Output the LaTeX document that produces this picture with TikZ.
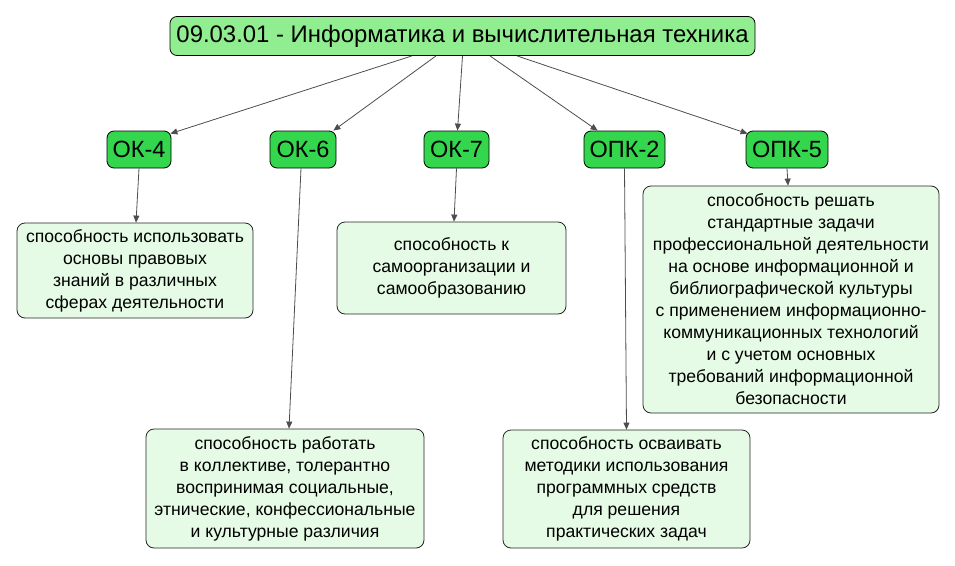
\documentclass[tikz,border=0pt]{standalone}
\usepackage{fontspec}
\setmainfont{Liberation Sans}
\usetikzlibrary{arrows.meta}
\definecolor{topfill}{HTML}{90EE90}
\definecolor{compfill}{HTML}{33D64C}
\definecolor{boxfill}{HTML}{E5FBE5}
\definecolor{edgecol}{HTML}{4D4D4D}
\begin{document}
\begin{tikzpicture}[x=1pt,y=-1pt,
  topnode/.style={draw=black, fill=topfill, rounded corners=7pt, line width=0.8pt,
    minimum width=585pt, minimum height=39pt, inner sep=0pt,
    font=\fontsize{23.9}{27}\selectfont},
  comp/.style={draw=black, fill=compfill, rounded corners=7pt, line width=0.8pt,
    minimum height=37pt, inner sep=0pt, font=\fontsize{23.5}{26}\selectfont},
  desc/.style={draw=black!85, fill=boxfill, rounded corners=8pt, line width=0.8pt,
    inner sep=0pt, align=center, font=\fontsize{17.6}{22}\selectfont},
  arr/.style={draw=edgecol, line width=0.8pt, -{Triangle[length=7pt,width=6pt]}}]
\useasboundingbox (0,0) rectangle (955,565);

\node[topnode] (top) at (462.5,36) {09.03.01 - Информатика и вычислительная техника};

\node[comp, minimum width=64pt] (ok4) at (139,149.5) {ОК-4};
\node[comp, minimum width=66pt] (ok6) at (303,149.5) {ОК-6};
\node[comp, minimum width=65pt] (ok7) at (456.5,149.5) {ОК-7};
\node[comp, minimum width=81pt] (opk2) at (624.5,149.5) {ОПК-2};
\node[comp, minimum width=82pt] (opk5) at (787,149.5) {ОПК-5};

\node[desc, minimum width=236pt, minimum height=95pt] (ok4box) at (135,270.5)
  {способность использовать\\основы правовых\\знаний в различных\\сферах деятельности};
\node[desc, minimum width=229pt, minimum height=92pt] (ok7box) at (451.5,268)
  {способность к\\самоорганизации и\\самообразованию};
\node[desc, minimum width=296pt, minimum height=227pt] (opk5box) at (791,299.5)
  {способность решать\\стандартные задачи\\профессиональной деятельности\\на основе информационной и\\библиографической культуры\\с применением информационно-\\коммуникационных технологий\\и с учетом основных\\требований информационной\\безопасности};
\node[desc, minimum width=278pt, minimum height=119pt] (ok6box) at (285,488.5)
  {способность работать\\в коллективе, толерантно\\воспринимая социальные,\\этнические, конфессиональные\\и культурные различия};
\node[desc, minimum width=247pt, minimum height=118pt] (opk2box) at (626.5,489)
  {способность осваивать\\методики использования\\программных средств\\для решения\\практических задач};

\draw[arr] ([xshift=-50.5pt]top.south) -- ([shift={(-1pt,-3pt)}]ok4.north east);
\draw[arr] ([xshift=-26.5pt]top.south) -- ([xshift=-3pt]ok6.north east);
\draw[arr] (top.south) -- ([xshift=1pt]ok7.north);
\draw[arr] ([xshift=27.5pt]top.south) -- ([xshift=14pt]opk2.north west);
\draw[arr] ([xshift=54.5pt]top.south) -- ([shift={(2pt,-3pt)}]opk5.north west);

\draw[arr] (ok4.south) -- ([xshift=1pt]ok4box.north);
\draw[arr] ([xshift=-2pt]ok6.south) -- ([xshift=4pt]ok6box.north);
\draw[arr] (ok7.south) -- ([xshift=2.5pt]ok7box.north);
\draw[arr] (opk2.south) -- (opk2box.north);
\draw[arr] (opk5.south) -- ([xshift=-3pt]opk5box.north);
\end{tikzpicture}
\end{document}
